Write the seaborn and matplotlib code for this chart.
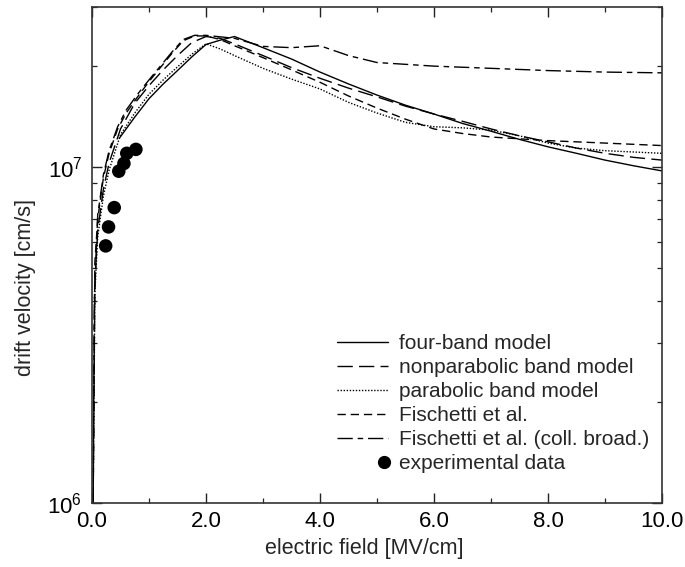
import numpy as np
import pandas as pd
import matplotlib
matplotlib.use("Agg")
import matplotlib.pyplot as plt
import seaborn as sns
from matplotlib.lines import Line2D
from matplotlib.legend_handler import HandlerLine2D
from matplotlib.ticker import LogLocator, MultipleLocator, FormatStrFormatter, NullFormatter

# ---------------- data ----------------
four_band_field = [0.48, 0.75, 1.0, 1.25, 1.5, 1.75, 2.0, 2.25, 2.5, 3.0, 3.5, 4.0, 4.5,
                   5.0, 5.5, 6.0, 6.5, 7.0, 7.5, 8.0, 8.5, 9.0, 9.5, 10.0]
four_band_vel = [1.22e7, 1.41e7, 1.60e7, 1.77e7, 1.94e7, 2.13e7, 2.32e7, 2.39e7, 2.45e7,
                 2.27e7, 2.10e7, 1.92e7, 1.77e7, 1.64e7, 1.53e7, 1.44e7, 1.35e7, 1.28e7,
                 1.21e7, 1.15e7, 1.10e7, 1.05e7, 1.01e7, 9.75e6]

nonpar_field = [0.02, 0.05, 0.1, 0.2, 0.3, 0.5, 0.75, 1.0, 1.25, 1.5, 1.75, 2.0, 2.25, 2.5,
                3.0, 3.5, 4.0, 4.5, 5.0, 5.5, 6.0, 6.5, 7.0, 7.5, 8.0, 8.5, 9.0, 9.5, 10.0]
nonpar_vel = [1.0e6, 4.5e6, 6.5e6, 8.6e6, 1.03e7, 1.30e7, 1.55e7, 1.75e7, 1.95e7, 2.15e7,
              2.35e7, 2.45e7, 2.42e7, 2.33e7, 2.15e7, 1.98e7, 1.84e7, 1.72e7, 1.62e7,
              1.52e7, 1.44e7, 1.37e7, 1.30e7, 1.24e7, 1.19e7, 1.14e7, 1.10e7, 1.07e7, 1.05e7]

parab_field = [0.02, 0.05, 0.1, 0.2, 0.3, 0.5, 0.75, 1.0, 1.25, 1.5, 1.75, 2.0, 2.25, 2.5,
               3.0, 3.5, 4.0, 4.5, 5.0, 5.5, 6.0, 6.5, 7.0, 7.5, 8.0, 8.5, 9.0, 9.5, 10.0]
parab_vel = [1.0e6, 4.2e6, 6.2e6, 8.2e6, 9.8e6, 1.25e7, 1.45e7, 1.65e7, 1.82e7, 1.99e7,
             2.17e7, 2.33e7, 2.25e7, 2.15e7, 1.97e7, 1.83e7, 1.71e7, 1.56e7, 1.45e7,
             1.36e7, 1.32e7, 1.31e7, 1.29e7, 1.24e7, 1.18e7, 1.14e7, 1.12e7, 1.11e7, 1.10e7]

fis_field = [0.02, 0.05, 0.1, 0.2, 0.3, 0.45, 0.6, 0.8, 1.0, 1.2, 1.4, 1.6, 1.8, 2.0, 2.25,
             2.5, 3.0, 3.5, 4.0, 4.5, 5.0, 5.5, 6.0, 6.5, 7.0, 8.0, 9.0, 10.0]
fis_vel = [1.0e6, 5.2e6, 7.0e6, 9.3e6, 1.10e7, 1.30e7, 1.45e7, 1.62e7, 1.80e7, 1.98e7,
           2.18e7, 2.38e7, 2.46e7, 2.46e7, 2.40e7, 2.30e7, 2.12e7, 1.95e7, 1.79e7, 1.63e7,
           1.50e7, 1.39e7, 1.30e7, 1.26e7, 1.23e7, 1.20e7, 1.18e7, 1.16e7]

coll_field = [0.02, 0.04, 0.1, 0.2, 0.3, 0.45, 0.6, 0.8, 1.0, 1.2, 1.4, 1.6, 1.8, 2.0, 2.5,
              3.0, 3.5, 4.0, 4.5, 5.0, 6.0, 7.0, 8.0, 9.0, 10.0]
coll_vel = [1.0e6, 4.0e6, 7.2e6, 9.5e6, 1.12e7, 1.32e7, 1.48e7, 1.65e7, 1.82e7, 2.00e7,
            2.20e7, 2.40e7, 2.47e7, 2.47e7, 2.42e7, 2.29e7, 2.27e7, 2.30e7, 2.15e7, 2.05e7,
            2.00e7, 1.97e7, 1.94e7, 1.92e7, 1.91e7]

exp_field = [0.24, 0.29, 0.39, 0.47, 0.56, 0.61, 0.77]
exp_vel = [5.83e6, 6.64e6, 7.58e6, 9.73e6, 1.026e7, 1.10e7, 1.13e7]

labels = ["four-band model", "nonparabolic band model", "parabolic band model",
          "Fischetti et al.", "Fischetti et al. (coll. broad.)", "experimental data"]
x_ticks = [0.0, 2.0, 4.0, 6.0, 8.0, 10.0]

# ---------------- style ----------------
sns.set_style("ticks")
plt.rcParams["font.family"] = ["Liberation Sans", "DejaVu Sans"]
plt.rcParams["mathtext.fontset"] = "custom"
plt.rcParams["mathtext.rm"] = "Liberation Sans"
plt.rcParams["mathtext.it"] = "Liberation Sans"

fig = plt.figure(figsize=(6.85, 5.67), dpi=100)
ax = fig.add_axes([92/685, 1-503/567, (662-92)/685, (503-7)/567])

lw = 1.0
series = [
    (four_band_field, four_band_vel, labels[0], "-"),
    (nonpar_field, nonpar_vel, labels[1], (0, (11, 4.5))),
    (parab_field, parab_vel, labels[2], (0, (1, 1.2))),
    (fis_field, fis_vel, labels[3], (0, (6, 3.5))),
    (coll_field, coll_vel, labels[4], (0, (11, 3.5, 4, 3.5))),
]
for fx, fy, lab, ls in series:
    df = pd.DataFrame({"field": fx, "vel": fy})
    sns.lineplot(data=df, x="field", y="vel", ax=ax, color="black", lw=lw,
                 linestyle=ls, label=lab, legend=False)

df_exp = pd.DataFrame({"field": exp_field, "vel": exp_vel})
sns.scatterplot(data=df_exp, x="field", y="vel", ax=ax, color="black", s=95,
                edgecolor="none", label=labels[5], legend=False, zorder=5)

ax.set_yscale("log")
ax.set_xlim(0, 10)
ax.set_ylim(1e6, 3e7)

ax.xaxis.set_major_locator(MultipleLocator(2.0))
ax.xaxis.set_minor_locator(MultipleLocator(1.0))
ax.xaxis.set_major_formatter(FormatStrFormatter("%.1f"))
ax.yaxis.set_major_locator(LogLocator(base=10, numticks=10))
ax.yaxis.set_minor_locator(LogLocator(base=10, subs=np.arange(2, 10), numticks=20))
ax.yaxis.set_minor_formatter(NullFormatter())

ax.tick_params(which="both", direction="in", top=True, right=True, colors="#222222")
ax.tick_params(which="major", length=7, width=1.0, labelsize=16, pad=6, labelcolor="black")
ax.tick_params(which="minor", length=3.5, width=0.9)
ax.tick_params(axis="y", which="major", pad=7)
for sp in ax.spines.values():
    sp.set_linewidth(1.2)
    sp.set_color("#333333")

ax.set_xlabel("electric field [MV/cm]", fontsize=15.5)
ax.set_ylabel("drift velocity [cm/s]", fontsize=15.5)
ax.xaxis.set_label_coords(0.477, -0.07)
ax.yaxis.set_label_coords(-0.098, 0.435)


class RightMarker(HandlerLine2D):
    def get_xdata(self, legend, xdescent, ydescent, width, height, fontsize):
        xd, xm = super().get_xdata(legend, xdescent, ydescent, width, height, fontsize)
        xr = -xdescent + width - 3
        return np.array([xr - 1, xr + 1]), np.array([xr])


handles, labs = ax.get_legend_handles_labels()
exp_proxy = Line2D([], [], marker="o", ls="none", color="black", ms=8.5)
handles = handles[:5] + [exp_proxy]
leg = ax.legend(handles, labels, loc="upper left", bbox_to_anchor=(0.43, 0.34),
                frameon=False, fontsize=15, handlelength=2.45, handletextpad=0.5,
                labelspacing=0.24, borderpad=0, borderaxespad=0,
                handler_map={exp_proxy: RightMarker()})

fig.savefig("out.png", dpi=100)
